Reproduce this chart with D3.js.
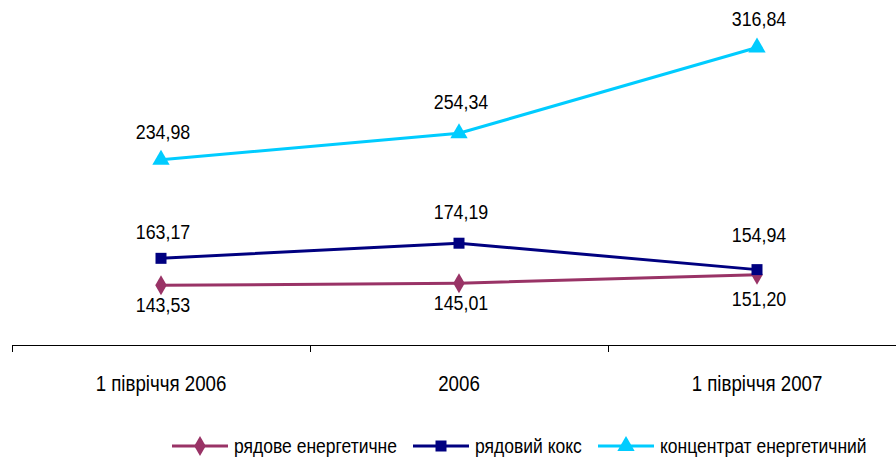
<!DOCTYPE html>
<html><head><meta charset="utf-8">
<script src="https://cdn.jsdelivr.net/npm/d3@7"></script>
<style>body{margin:0;background:#fff}svg{display:block}text{font-family:"Liberation Sans",Arial,sans-serif;fill:#000}</style>
</head><body>
<svg id="c" width="896" height="458"></svg>
<script>
const categories = ["1 півріччя 2006", "2006", "1 півріччя 2007"];
const seriesNames = ["рядове енергетичне", "рядовий кокс", "концентрат енергетичний"];
const ordinaryEnergy = [143.53, 145.01, 151.20];
const ordinaryCoke = [163.17, 174.19, 154.94];
const concentrate = [234.98, 254.34, 316.84];

// styling
const colors = ["#993366", "#000080", "#00CCFF"];
const symbols = [d3.symbolDiamond, d3.symbolSquare, d3.symbolTriangle];
const symbolSizes = [115, 121, 130];
const labelOffsets = [[27, 27, 31], [-19, -24, -28], [-21, -24, -21]];
const legendX = [172, 413, 598];
const SX = 0.85;

const series = [ordinaryEnergy, ordinaryCoke, concentrate].map((v,i)=>({name:seriesNames[i], values:v, color:colors[i], symbol:symbols[i], size:symbolSizes[i], off:labelOffsets[i]}));

const svg = d3.select("#c");
const x = d3.scaleBand().domain(categories).range([12, 906]);
const y = d3.scaleLinear().domain([100, 350]).range([345, 2]);
const cx = c => x(c) + x.bandwidth()/2;
const fmt = v => v.toFixed(2).replace(".", ",");

function addText(sel, tx, ty, size, str, anchor){
  return sel.append("text").attr("transform",`translate(${tx},${ty}) scale(${SX},1)`)
    .attr("text-anchor",anchor||"middle").attr("font-size",size).text(str);
}

// axis
svg.append("line").attr("x1",12).attr("x2",906).attr("y1",345.5).attr("y2",345.5).attr("stroke","#000").attr("stroke-width",1);
const bounds = [...categories.map(c=>x(c)), x.range()[1]];
svg.selectAll(".tk").data(bounds).join("line").attr("x1",d=>d+0.5).attr("x2",d=>d+0.5).attr("y1",345).attr("y2",352).attr("stroke","#000");
categories.forEach(c=>addText(svg, cx(c), 391, 22, c));

const line = d3.line().x((d,i)=>cx(categories[i])).y(d=>y(d));

series.forEach(s=>{
  svg.append("path").datum(s.values).attr("d",line).attr("fill","none").attr("stroke",s.color).attr("stroke-width",3);
  const sym = d3.symbol().type(s.symbol).size(s.size);
  s.values.forEach((d,i)=>{
    svg.append("path").attr("d", sym).attr("transform",`translate(${cx(categories[i])},${y(d)})`).attr("fill",s.color);
  });
  s.values.forEach((d,i)=>{
    addText(svg, cx(categories[i])+2, y(d)+s.off[i], 21, fmt(d));
  });
});

// legend
const lg = svg.append("g").attr("transform","translate(0,446)");
series.forEach((s,i)=>{
  const g = lg.append("g").attr("transform",`translate(${legendX[i]},0)`);
  g.append("line").attr("x1",0).attr("x2",56).attr("y1",0).attr("y2",0).attr("stroke",s.color).attr("stroke-width",3);
  g.append("path").attr("d", d3.symbol().type(s.symbol).size(s.size)).attr("transform","translate(28,0)").attr("fill",s.color);
  addText(g, 62, 7, 20.6, s.name, "start");
});
</script>
</body></html>
